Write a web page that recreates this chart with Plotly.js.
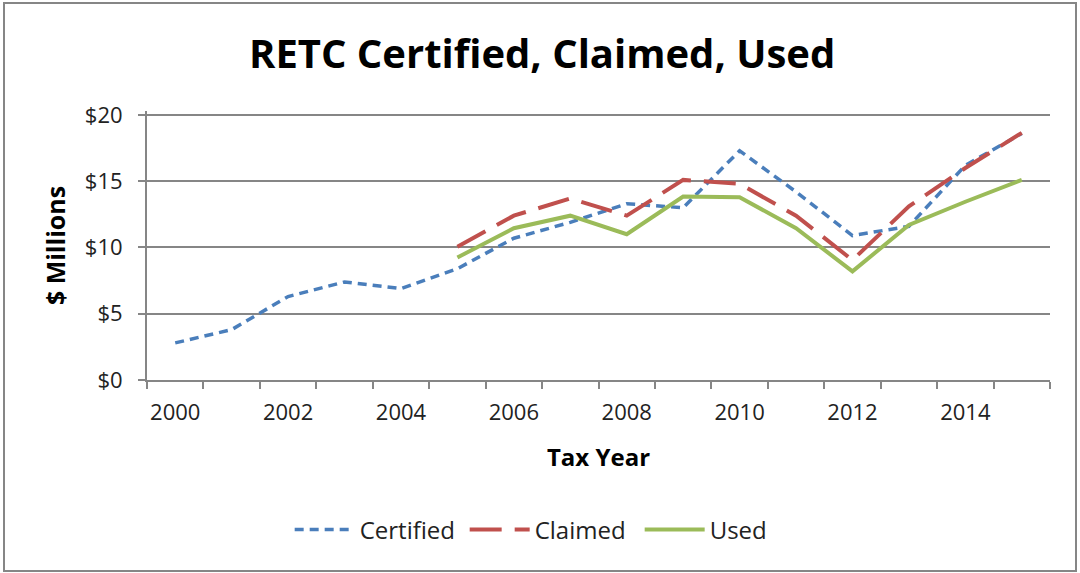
<!DOCTYPE html>
<html>
<head>
<meta charset="utf-8">
<script src="https://cdn.plot.ly/plotly-3.0.1.min.js"></script>
<style>
html,body{margin:0;padding:0;background:#fff;}
#chart{width:1080px;height:573px;}
</style>
</head>
<body>
<div id="chart"></div>
<script>
const years = ['2000','2001','2002','2003','2004','2005','2006','2007','2008','2009','2010','2011','2012','2013','2014','2015'];
const yearLabels = ['2000','','2002','','2004','','2006','','2008','','2010','','2012','','2014',''];
const certified = [2.8, 3.8, 6.3, 7.4, 6.9, 8.4, 10.7, 11.9, 13.3, 13.0, 17.3, 14.2, 10.9, 11.6, 16.2, 18.6];
const claimed   = [null, null, null, null, null, 10.05, 12.4, 13.7, 12.4, 15.1, 14.8, 12.4, 9.05, 13.1, 16.0, 18.65];
const used      = [null, null, null, null, null, 9.25, 11.45, 12.4, 11.0, 13.85, 13.8, 11.45, 8.2, 11.7, 13.45, 15.1];
const yTicks = [0, 5, 10, 15, 20];
const yTickText = ['$0', '$5', '$10', '$15', '$20'];

const FONT = '"Open Sans", sans-serif';
const GRID = '#868686';

const traces = [
  {x: years, y: certified, name: 'Certified', type: 'scatter', mode: 'lines',
   line: {color: '#4A7EBB', width: 3.5, dash: '9px,6px'}},
  {x: years, y: claimed, name: 'Claimed', type: 'scatter', mode: 'lines',
   line: {color: '#C0504D', width: 4, dash: '32px,13px'}},
  {x: years, y: used, name: 'Used', type: 'scatter', mode: 'lines',
   line: {color: '#9BBB59', width: 4}}
];

// plot area: x 147..1050, y 111..380 (range 0..20.3 so $20 sits at y=115)
const PH = 269, PW = 903;
const topTick = yTicks[yTicks.length - 1];
const layout = {
  width: 1080, height: 573,
  margin: {l: 147, r: 30, t: 111, b: 193, pad: 0},
  paper_bgcolor: '#fff', plot_bgcolor: '#fff',
  font: {family: FONT, color: '#000', size: 18},
  title: {text: '<b>RETC Certified, Claimed, Used</b>', font: {family: FONT, size: 40, color: '#000'},
          x: 0.502, xanchor: 'center', xref: 'container', y: 0.905, yref: 'container', yanchor: 'middle'},
  showlegend: true,
  legend: {orientation: 'h', x: 0.158, xanchor: 'left', y: (380-530)/PH, yanchor: 'middle',
           font: {family: FONT, size: 24, color: '#222'}, itemwidth: 60, entrywidth: 100, traceorder: 'normal'},
  xaxis: {
    type: 'category', tickvals: years, ticktext: yearLabels, tickson: 'boundaries', tickangle: 0,
    ticks: 'outside', ticklen: 7, tickwidth: 2, tickcolor: GRID,
    showline: true, linecolor: GRID, linewidth: 2, showgrid: false, zeroline: false,
    tickfont: {family: FONT, size: 22, color: '#222'}, ticklabelstandoff: 12,
    title: {text: '<b>Tax Year</b>', font: {family: FONT, size: 24, color: '#000'}, standoff: 24},
    range: [-0.5, 15.5], fixedrange: true
  },
  yaxis: {
    range: [0, 20.3], tickvals: yTicks, ticktext: yTickText,
    ticks: 'outside', ticklen: 7, tickwidth: 2, tickcolor: GRID,
    showline: true, linecolor: GRID, linewidth: 2,
    showgrid: true, gridcolor: GRID, gridwidth: 2, zeroline: false,
    tickfont: {family: FONT, size: 22, color: '#222'}, ticklabelstandoff: 11,
    title: {text: '<b>$ Millions</b>', font: {family: FONT, size: 25, color: '#000'}, standoff: 12},
    fixedrange: true
  },
  shapes: [
    {type: 'rect', xref: 'paper', yref: 'paper',
     x0: (4-147)/PW, x1: (1076-147)/PW, y0: (380-571)/PH, y1: (380-3)/PH,
     line: {color: GRID, width: 2}, fillcolor: 'rgba(0,0,0,0)', layer: 'below'},
    {type: 'line', xref: 'paper', yref: 'y', x0: 0, x1: 1, y0: topTick, y1: topTick,
     line: {color: GRID, width: 2}, layer: 'below'}
  ]
};

Plotly.newPlot('chart', traces, layout, {staticPlot: true, displayModeBar: false});
</script>
</body>
</html>
